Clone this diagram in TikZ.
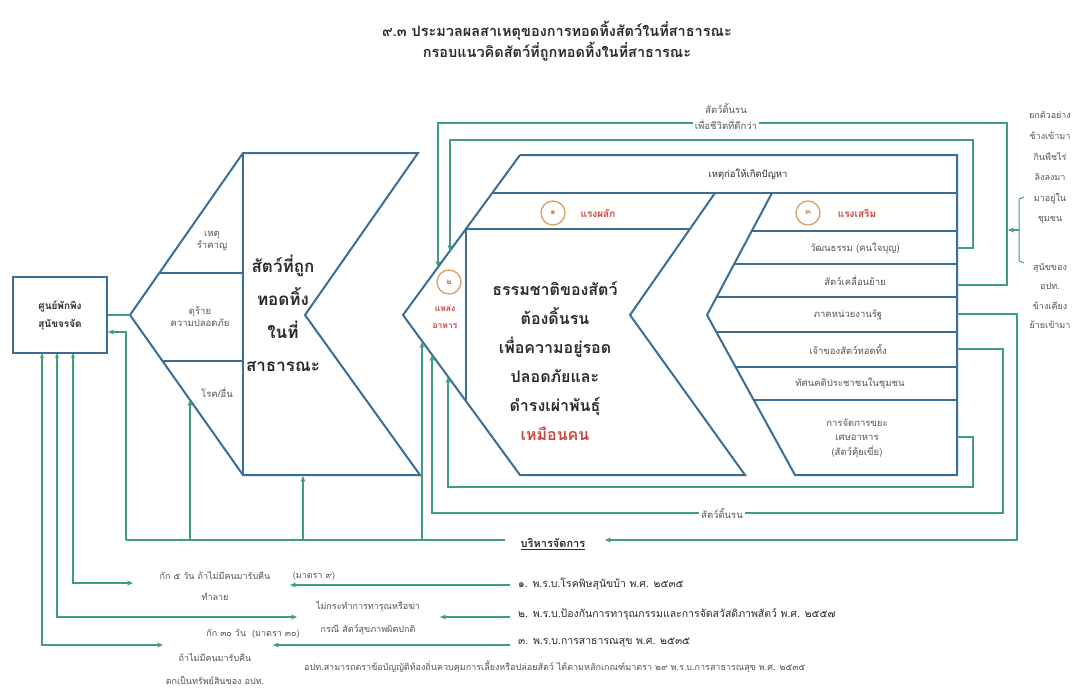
\documentclass[tikz,border=0pt]{standalone}
\usepackage{fontspec}
\newfontfamily\thai[Script=Thai]{Loma}
\usetikzlibrary{arrows.meta}
\definecolor{blu}{HTML}{3B6E97}
\definecolor{grn}{HTML}{3F9E7F}
\definecolor{thred}{HTML}{C9463D}
\definecolor{orng}{HTML}{D9A066}
\definecolor{dark}{HTML}{2B2B2B}
\definecolor{gry}{HTML}{555555}
\tikzset{
 shp/.style={draw=blu, line width=2pt, line join=miter},
 lnk/.style={draw=grn, line width=1.4pt},
 arr/.style={lnk, -{Stealth[length=6pt,width=5pt]}},
 darr/.style={lnk, {Stealth[length=5pt,width=4pt]}-{Stealth[length=6pt,width=5pt]}},
 sm/.style={font=\thai\fontsize{9.5}{12}\selectfont, text=gry, align=center, inner sep=1pt},
 redt/.style={font=\thai\bfseries\fontsize{10}{16}\selectfont, text=thred, align=center, inner sep=1pt},
 big/.style={font=\thai\bfseries\fontsize{16}{29}\selectfont, text=dark, align=center},
 num/.style={draw=orng, line width=1.3pt, circle, minimum size=24pt, inner sep=0pt, font=\thai\fontsize{8}{8}\selectfont, text=thred},
 ttl/.style={font=\thai\bfseries\fontsize{14.5}{16}\selectfont, text=dark},
 law/.style={font=\thai\fontsize{10.5}{13}\selectfont, text=dark, anchor=west, inner sep=1pt},
 note/.style={font=\thai\fontsize{9}{21}\selectfont, text=gry, align=center, inner sep=1pt},
}
\begin{document}
\begin{tikzpicture}[x=1pt,y=-1pt]
\useasboundingbox (0,0) rectangle (1080,689);
\fill[white] (0,0) rectangle (1080,689);

% title
\node[ttl] (title1) at (557,31) {๙.๓ ประมวลผลสาเหตุของการทอดทิ้งสัตว์ในที่สาธารณะ};
\node[ttl] (title2) at (557,52) {กรอบแนวคิดสัตว์ที่ถูกทอดทิ้งในที่สาธารณะ};

% shelter box
\node[draw=blu, line width=1.8pt, minimum width=94pt, minimum height=76pt, align=center,
      font=\thai\bfseries\fontsize{10}{18}\selectfont, text=dark] (shelter) at (60,315) {ศูนย์พักพิง\\สุนัขจรจัด};

% left shape
\coordinate (L1) at (130,315);
\coordinate (L2) at (243,153);
\coordinate (L3) at (418,153);
\coordinate (L4) at (305,315);
\coordinate (L5) at (420,475);
\coordinate (L6) at (243,475);
\draw[shp] (L1)--(L2)--(L3)--(L4)--(L5)--(L6)--cycle;
\draw[shp] (L2)--(L6);
\draw[shp] (159,273)--(243,273);
\draw[shp] (162,361)--(243,361);
\node[sm] (la) at (212,241) {เหตุ\\รำคาญ};
\node[sm] (lb) at (200,317) {ดุร้าย\\ความปลอดภัย};
\node[sm] (lc) at (217,393) {โรค/อื่น};
\node[big, font=\thai\bfseries\fontsize{17}{33}\selectfont] (lmain) at (283,313) {สัตว์ที่ถูก\\ทอดทิ้ง\\ในที่\\สาธารณะ};

% middle and right shapes
\draw[shp] (520,155)--(403,315)--(520,475)--(745,475)--(630,315)--(715,193);
\draw[shp] (520,155)--(957,155)--(957,475)--(795,475)--(707,315)--(772,193);
\draw[shp] (492,193)--(957,193);
\draw[shp] (466,229)--(690,229);
\draw[shp] (466,229)--(466,401);
\foreach \yy/\xx in {231/752,264/734,297/717,332/716,367/736,400/754}
  \draw[shp] (\xx,\yy)--(957,\yy);

\node[sm, text=dark] (cause) at (748,174) {เหตุก่อให้เกิดปัญหา};
\node[num] (n1) at (553,213) {๑};
\node[redt] (push) at (598,213) {แรงผลัก};
\node[num] (n2) at (449,282) {๒};
\node[redt, font=\thai\bfseries\fontsize{8.5}{17}\selectfont] (food) at (445,317) {แหล่ง\\อาหาร};
\node[num] (n3) at (808,213) {๓};
\node[redt] (pull) at (857,213) {แรงเสริม};
\node[big] (mmain) at (555,361) {ธรรมชาติของสัตว์\\ต้องดิ้นรน\\เพื่อความอยู่รอด\\ปลอดภัยและ\\ดำรงเผ่าพันธุ์\\\textcolor{thred}{เหมือนคน}};

\node[sm] (r1) at (855,248) {วัฒนธรรม (คนใจบุญ)};
\node[sm] (r2) at (855,281) {สัตว์เคลื่อนย้าย};
\node[sm] (r3) at (848,315) {ภาคหน่วยงานรัฐ};
\node[sm] (r4) at (848,349) {เจ้าของสัตว์ทอดทิ้ง};
\node[sm] (r5) at (850,383) {ทัศนคติประชาชนในชุมชน};
\node[sm, font=\thai\fontsize{9.5}{14.5}\selectfont] (r6) at (857,438) {การจัดการขยะ\\เศษอาหาร\\(สัตว์คุ้ยเขี่ย)};

% connectors: loops
\coordinate (pOutT) at (957,285);
\coordinate (pOutB) at (957,349);
\coordinate (pInT) at (957,248);
\coordinate (pInB) at (957,437);
\coordinate (pMg) at (957,314);
\draw[arr] (pOutT) -| (1007,123) -| (438,267);
\draw[arr] (pOutB) -| (1003,513) -| (432,355);
\draw[arr] (pInT) -| (973,140) -| (450,251);
\draw[arr] (pInB) -| (973,487) -| (448,377);
\draw[arr] (pMg) -| (1017,540) -- (605,540);
\coordinate (mgL) at (505,540);
\coordinate (bxIn) at (108,332);
\draw[lnk] (mgL) -- (126,540);
\draw[arr] (126,540) -- (126,332) -- (bxIn);
\draw[arr] (190,540) -- (190,400);
\draw[arr] (303,540) -- (303,476);
\draw[arr] (422,540) -- (422,342);
\draw[lnk] (shelter.east) -- (L1);

% box bottom and laws
\draw[darr] (73,353) |- (133,583);
\draw[darr] (57,353) |- (297,617);
\draw[darr] (42,353) |- (163,645);
\draw[arr] (510,585) -- (290,585);
\draw[arr] (510,617) -- (440,617);
\draw[arr] (510,645) -- (273,645);

% labels on lines
\node[sm, fill=white, inner sep=2pt, font=\thai\fontsize{9.5}{16}\selectfont] (strug1) at (726,116) {สัตว์ดิ้นรน\\เพื่อชีวิตที่ดีกว่า};
\node[sm, fill=white, inner sep=2pt] (strug2) at (722,513) {สัตว์ดิ้นรน};
\node[font=\thai\bfseries\fontsize{11}{13}\selectfont, text=dark] (mgmt) at (553,544) {\underline{บริหารจัดการ}};

\node[law] (law1) at (517,584) {๑. พ.ร.บ.โรคพิษสุนัขบ้า พ.ศ. ๒๕๓๕};
\node[law] (law2) at (517,614) {๒. พ.ร.บ.ป้องกันการทารุณกรรมและการจัดสวัสดิภาพสัตว์ พ.ศ. ๒๕๕๗};
\node[law] (law3) at (517,643) {๓. พ.ร.บ.การสาธารณสุข พ.ศ. ๒๕๓๕};
\node[note, anchor=west] (foot) at (303,667) {อปท.สามารถตราข้อบัญญัติท้องถิ่นควบคุมการเลี้ยงหรือปล่อยสัตว์ ได้ตามหลักเกณฑ์มาตรา ๒๙ พ.ร.บ.การสาธารณสุข พ.ศ. ๒๕๓๕};

\node[note] (n1a) at (215,586) {กัก ๕ วัน ถ้าไม่มีคนมารับคืน\\ทำลาย};
\node[note] (n1b) at (314,576) {(มาตรา ๙)};
\node[note, font=\thai\fontsize{9}{23}\selectfont] (n2a) at (368,618) {ไม่กระทำการทารุณหรือฆ่า\\กรณี สัตว์สุขภาพผิดปกติ};
\node[note] (n3a) at (253,634) {กัก ๓๐ วัน \ (มาตรา ๓๐)};
\node[note, font=\thai\fontsize{9}{23}\selectfont] (n3b) at (215,669) {ถ้าไม่มีคนมารับคืน\\ตกเป็นทรัพย์สินของ อปท.};

% right column
\node[sm, font=\thai\fontsize{9}{20.6}\selectfont] (ex1) at (1050,168) {ยกตัวอย่าง\\ช้างเข้ามา\\กินพืชไร่\\ลิงลงมา\\มาอยู่ใน\\ชุมชน};
\node[sm, font=\thai\fontsize{9}{19.5}\selectfont] (ex2) at (1050,296) {สุนัขของ\\อปท.\\ข้างเคียง\\ย้ายเข้ามา};
\draw[lnk, line width=1pt] (1024,197) -- (1019,199) -- (1019,261) -- (1024,263);
\coordinate (brk) at (1019,230);
\draw[arr] (brk) -- (1008,230);
\end{tikzpicture}
\end{document}
